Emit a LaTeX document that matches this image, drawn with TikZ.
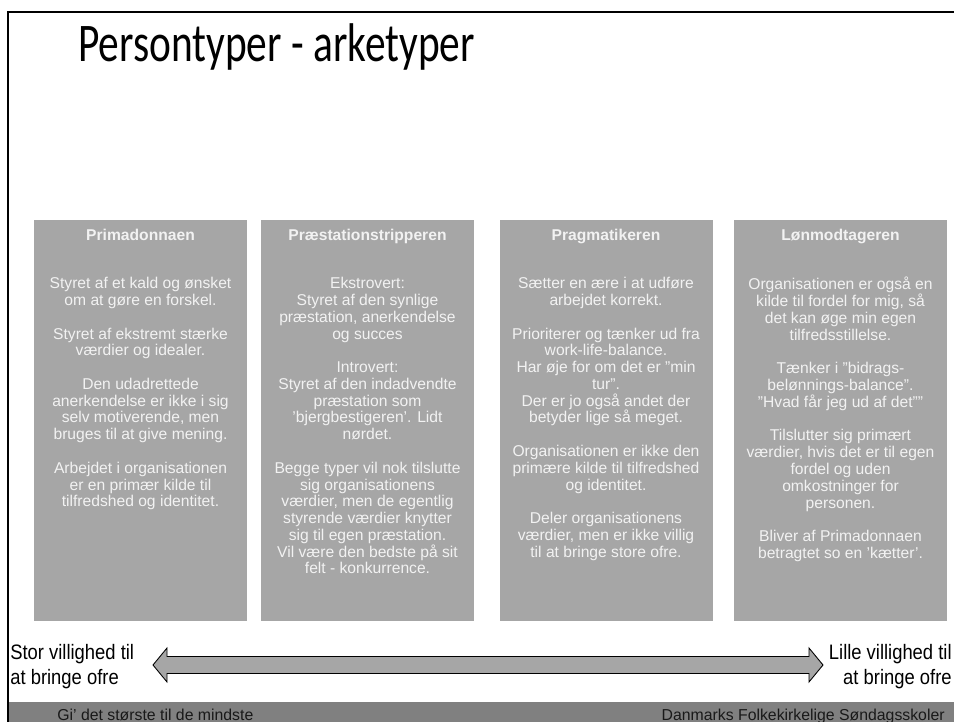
\documentclass[tikz,border=0pt]{standalone}
\usepackage{fontspec}
\setmainfont{Liberation Sans}
\newfontfamily\titlefont[FakeStretch=0.76]{Carlito}
\newfontfamily\sidefont[FakeStretch=0.88]{Liberation Sans}
\definecolor{boxgray}{HTML}{A6A6A6}
\definecolor{footgray}{HTML}{808080}
\definecolor{boxtext}{HTML}{F2F2F2}

\begin{document}
\begin{tikzpicture}[x=0.02cm,y=-0.02cm]
            \tikzstyle{every node}+=[inner sep=0pt]
            \tikzstyle{typebox}=[fill=boxgray, minimum width=4.26cm, minimum height=8.02cm, anchor=north west]
            \tikzstyle{typehead}=[text=boxtext, font=\fontsize{8.9}{9.55}\selectfont\bfseries, anchor=base]
            \tikzstyle{typebody}=[text=boxtext, font=\fontsize{8.9}{9.55}\selectfont, align=center, anchor=north, execute at begin node=\strut]
            \tikzstyle{sidelabel}=[font=\sidefont\fontsize{11.9}{14.2}\selectfont, execute at begin node=\strut]
            \tikzstyle{foottext}=[font=\fontsize{9}{10.8}\selectfont, text=black!90]
            \useasboundingbox (0,0) rectangle (954,722);
            % footer band and frame
            \fill [footgray] (8,702) rectangle (960,730);
            \draw [black, line width=1.1pt] (8,730) -- (8,12) -- (960,12);
            \node (title) [anchor=base west, font=\titlefont\fontsize{31}{36}\selectfont] at (78,62) {Persontyper - arketyper};
            % the four types
            \node (prima) [typebox] at (34,220) {};
            \node (praes) [typebox] at (261,220) {};
            \node (prag) [typebox] at (500,220) {};
            \node (loen) [typebox] at (734,220) {};
            \node (primahead) [typehead] at (140.5,241) {Primadonnaen};
            \node (praeshead) [typehead] at (367.5,241) {Præstationstripperen};
            \node (praghead) [typehead] at (606,241) {Pragmatikeren};
            \node (loenhead) [typehead] at (840.5,241) {Lønmodtageren};
            \node (primatext) [typebody] at (140.5,277) {Styret af et kald og ønsket\\om at gøre en forskel.\\[9.55pt]Styret af ekstremt stærke\\værdier og idealer.\\[9.55pt]Den udadrettede\\anerkendelse er ikke i sig\\selv motiverende, men\\bruges til at give mening.\\[9.55pt]Arbejdet i organisationen\\er en primær kilde til\\tilfredshed og identitet.};
            \node (praestext) [typebody] at (367.5,277) {Ekstrovert:\\Styret af den synlige\\præstation, anerkendelse\\og succes\\[9.55pt]Introvert:\\Styret af den indadvendte\\præstation som\\’bjergbestigeren’. Lidt\\nørdet.\\[9.55pt]Begge typer vil nok tilslutte\\sig organisationens\\værdier, men de egentlig\\styrende værdier knytter\\sig til egen præstation.\\Vil være den bedste på sit\\felt - konkurrence.};
            \node (pragtext) [typebody] at (606,277) {Sætter en ære i at udføre\\arbejdet korrekt.\\[9.55pt]Prioriterer og tænker ud fra\\work-life-balance.\\Har øje for om det er ”min\\tur”.\\Der er jo også andet der\\betyder lige så meget.\\[9.55pt]Organisationen er ikke den\\primære kilde til tilfredshed\\og identitet.\\[9.55pt]Deler organisationens\\værdier, men er ikke villig\\til at bringe store ofre.};
            \node (loentext) [typebody] at (840.5,277) {Organisationen er også en\\kilde til fordel for mig, så\\det kan øge min egen\\tilfredsstillelse.\\[9.55pt]Tænker i ”bidrags-\\belønnings-balance”.\\”Hvad får jeg ud af det””\\[9.55pt]Tilslutter sig primært\\værdier, hvis det er til egen\\fordel og uden\\omkostninger for\\personen.\\[9.55pt]Bliver af Primadonnaen\\betragtet so en ’kætter’.};
            % scale of willingness
            \node (stor) [sidelabel, anchor=north west, align=left] at (10,644) {Stor villighed til\\at bringe ofre};
            \node (lille) [sidelabel, anchor=north east, align=right] at (952,644) {Lille villighed til\\at bringe ofre};
            \draw [black, line width=0.5pt, fill=boxgray] (153,665) -- (167,648) -- (167,656.5) -- (809,656.5) -- (809,648)
                -- (823,665) -- (809,682) -- (809,673.5) -- (167,673.5) -- (167,682) -- cycle;
            % footer
            \node (motto) [foottext, anchor=base west] at (57,721) {Gi’ det største til de mindste};
            \node (forening) [foottext, anchor=base east] at (945,721) {Danmarks Folkekirkelige Søndagsskoler};
        \end{tikzpicture}
\end{document}
